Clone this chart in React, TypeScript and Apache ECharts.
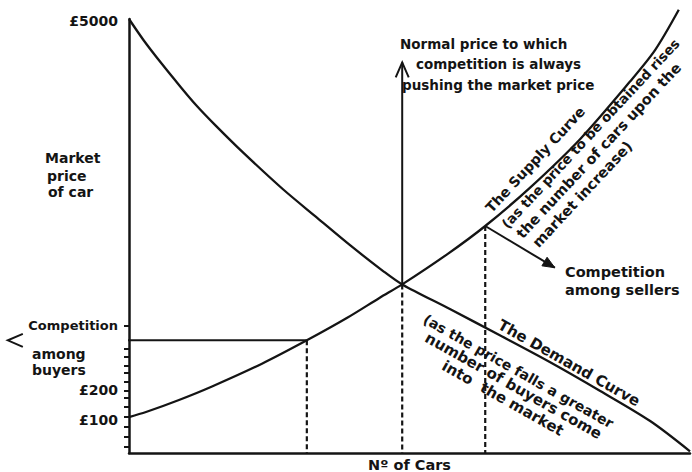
import React, { useEffect, useRef } from "react";
import * as echarts from "echarts";

// Demand curve (No. of cars on x, schematic price units on y)
const demandX = [0, 2.67, 5.88, 8.91, 11.94, 15.5, 20.5, 27.45, 33.5, 39.4, 45.3, 48.7, 57.2, 66.1, 75.0, 84.0, 92.9, 100];
const demandY = [52, 49.4, 46.6, 44.1, 41.7, 39.2, 35.9, 31.6, 28.2, 24.9, 21.8, 20.2, 17.25, 14.1, 10.9, 7.43, 3.83, 0.2];

// Supply curve
const supplyX = [0, 3.03, 8.91, 14.8, 23.7, 31.7, 38.9, 44.7, 48.7, 56.7, 63.5, 71.5, 80.4, 89.3, 93.8, 98.0];
const supplyY = [4.31, 4.91, 6.35, 7.97, 10.7, 13.5, 16.2, 18.6, 20.2, 23.8, 27.2, 31.8, 37.6, 44.5, 48.3, 53.1];

// Key points: buyers' competition, normal (equilibrium) price, sellers' competition
const keyX = [31.7, 48.7, 63.5];
const keyY = [13.5, 20.2, 27.2];
// Where each competition arrow points to
const arrowEndX = [-21.6, 48.7, 75.9];
const arrowEndY = [13.5, 46.8, 22.2];
const arrowFilled = [false, false, true];

// Y axis ticks and labels
const yTickValues = [0.7, 1.9, 3.1, 4.3, 5.6, 6.6, 7.5, 8.5, 9.6, 10.5, 11.5, 12.5, 15.3];
const yLabelValues = [4, 7.5, 15.3, 51.8];
const yLabelTexts = ["£100", "£200", "Competition", "£5000"];

const xAxisTitle = "Nº of Cars";

export default function App() {
  const ref = useRef<HTMLDivElement>(null);
  useEffect(() => {
    document.body.style.margin = "0";
    const chart = echarts.init(ref.current!, null, { renderer: "svg" });
    const font = "'DejaVu Sans', 'Open Sans', sans-serif";
    const ink = "#141414";
    const pair = (xs: number[], ys: number[]) => xs.map((x, i) => [x, ys[i]]);

    chart.setOption({
      animation: false,
      backgroundColor: "#ffffff",
      grid: { left: 129, right: 2, top: 19, bottom: 19, containLabel: false, outerBoundsMode: "none" },
      xAxis: {
        type: "value",
        min: 0,
        max: 100,
        axisLine: { show: true, lineStyle: { color: ink, width: 2.5 } },
        axisTick: { show: false },
        axisLabel: { show: false },
        splitLine: { show: false },
        name: xAxisTitle,
        nameLocation: "middle",
        nameGap: 4,
        nameTextStyle: { color: ink, fontFamily: font, fontWeight: "bold", fontSize: 14.5 },
      },
      yAxis: {
        type: "value",
        min: 0,
        max: 52,
        axisLine: { show: true, lineStyle: { color: ink, width: 2.5 } },
        axisTick: { show: true, customValues: yTickValues, length: 5, lineStyle: { color: ink, width: 2 } },
        axisLabel: {
          customValues: yLabelValues,
          margin: 11,
          color: ink,
          fontFamily: font,
          fontWeight: "bold",
          fontSize: 14,
          formatter: (v: number) => {
            let best = 0;
            yLabelValues.forEach((lv, i) => {
              if (Math.abs(lv - v) < Math.abs(yLabelValues[best] - v)) best = i;
            });
            const t = yLabelTexts[best];
            return t.startsWith("£") ? t : "{c|" + t + "}";
          },
          rich: {
            c: { fontFamily: font, fontWeight: "bold", fontSize: 13, color: ink },
          },
        },
        splitLine: { show: false },
      },
      series: [
        {
          type: "line",
          data: pair(demandX, demandY),
          smooth: 0.3,
          symbol: "none",
          clip: false,
          lineStyle: { color: ink, width: 2.3 },
        },
        {
          type: "line",
          data: pair(supplyX, supplyY),
          smooth: 0.3,
          symbol: "none",
          clip: false,
          lineStyle: { color: ink, width: 2.3 },
        },
        ...keyX.map((x, i) => ({
          type: "line",
          data: [
            [x, keyY[i]],
            [x, 0],
          ],
          symbol: "none",
          lineStyle: { color: ink, width: 2.2, type: [5, 3] },
        })),
        ...keyX.map((x, i) => ({
          type: "line",
          data: [
            [x, keyY[i]],
            [arrowEndX[i], arrowEndY[i]],
          ],
          symbol: "none",
          clip: false,
          lineStyle: { color: ink, width: 2 },
        })),
      ],
    });

    const graphics: any[] = [];
    keyX.forEach((x, i) => {
      const from = chart.convertToPixel({ gridIndex: 0 }, [x, keyY[i]]) as number[];
      const tip = chart.convertToPixel({ gridIndex: 0 }, [arrowEndX[i], arrowEndY[i]]) as number[];
      const dx = tip[0] - from[0];
      const dy = tip[1] - from[1];
      const len = Math.hypot(dx, dy);
      const ux = dx / len;
      const uy = dy / len;
      const L = arrowFilled[i] ? 12 : 15;
      const W = arrowFilled[i] ? 5 : 6.5;
      const bx = tip[0] - ux * L;
      const by = tip[1] - uy * L;
      const pts = [
        [bx - uy * W, by + ux * W],
        [tip[0], tip[1]],
        [bx + uy * W, by - ux * W],
      ];
      if (arrowFilled[i]) {
        graphics.push({ type: "polygon", shape: { points: pts }, style: { fill: ink, stroke: ink, lineWidth: 1 } });
      } else {
        graphics.push({ type: "polyline", shape: { points: pts }, style: { fill: null, stroke: ink, lineWidth: 2 } });
      }
    });

    const T = (text: string, x: number, y: number, rotDeg = 0, va = "middle", size = 13) => ({
      type: "text",
      x,
      y,
      rotation: (rotDeg * Math.PI) / 180,
      style: { text, fill: ink, fontSize: size, fontWeight: "bold", fontFamily: font, align: "left", verticalAlign: va },
    });

    const sRot = 47;
    const dRot = -29.5;
    graphics.push(
      T("Market", 45, 158, 0, "middle", 14),
      T("price", 47, 176, 0, "middle", 14),
      T("of car", 48, 192, 0, "middle", 14),
      T("among", 32, 354, 0, "middle", 14),
      T("buyers", 32, 370, 0, "middle", 14),
      T("Normal price to which", 400, 44, 0, "middle", 13.5),
      T("competition is always", 416, 64, 0, "middle", 13.5),
      T("pushing the market price", 402, 85, 0, "middle", 13.5),
      T("Competition", 565, 272, 0, "middle", 14.5),
      T("among sellers", 565, 290, 0, "middle", 14.5),
      // supply curve annotations
      T("The Supply Curve", 488, 210, sRot, "middle", 14),
      T("(as the price to be obtained rises", 504, 226, sRot, "middle", 13.5),
      T("the number of cars upon the", 519, 236, sRot, "middle", 14.5),
      T("market increase)", 535, 245, sRot, "middle", 14.5),
      // demand curve annotations
      T("The Demand Curve", 503, 317, dRot, "top", 15),
      T("(as the price falls a greater", 428, 312, dRot, "top", 14),
      T("number of buyers come", 430, 330, dRot, "top", 15),
      T("into  the market", 447, 358, dRot, "top", 15)
    );

    chart.setOption({ graphic: graphics });
    return () => chart.dispose();
  }, []);
  return <div ref={ref} style={{ position: "absolute", left: 0, top: 0, width: 692, height: 472 }} />;
}
